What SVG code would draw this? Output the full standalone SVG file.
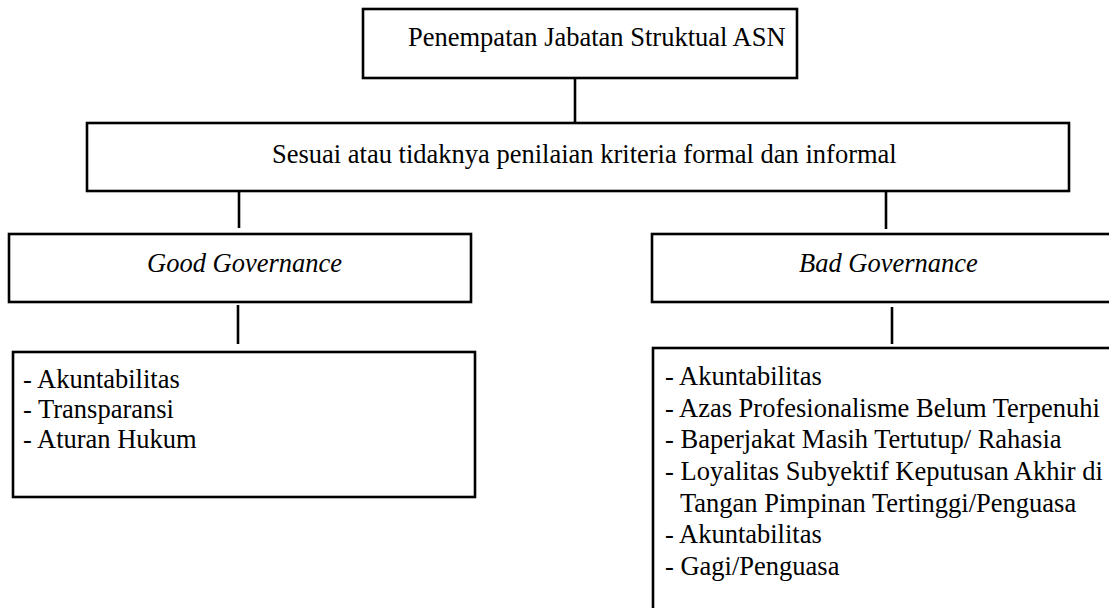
<svg xmlns="http://www.w3.org/2000/svg" width="1109" height="608" viewBox="0 0 1109 608">
<style>
.box{fill:#fff;stroke:#000;stroke-width:2.6}
.ln{stroke:#000;stroke-width:2.6;fill:none}
text{font-family:"Liberation Serif","Times New Roman",serif;font-size:26.5px;fill:#000}
.it{font-style:italic}
</style>
<rect width="1109" height="608" fill="#fff"/>
<g id="connectors">
<line class="ln" x1="575" y1="78" x2="575" y2="123"/>
<line class="ln" x1="239" y1="191" x2="239" y2="228"/>
<line class="ln" x1="886" y1="191" x2="886" y2="229"/>
<line class="ln" x1="238" y1="305" x2="238" y2="344"/>
<line class="ln" x1="892" y1="307" x2="892" y2="344"/>
</g>
<g id="node-top">
<rect class="box" x="363" y="9" width="434" height="69"/>
<text x="408" y="46">Penempatan Jabatan Struktual ASN</text>
</g>
<g id="node-criteria">
<rect class="box" x="87" y="123" width="982" height="68"/>
<text x="272" y="163">Sesuai atau tidaknya penilaian kriteria formal dan informal</text>
</g>
<g id="node-good">
<rect class="box" x="9" y="234" width="462" height="68"/>
<text class="it" x="147" y="272">Good Governance</text>
</g>
<g id="node-bad">
<rect class="box" x="652" y="234" width="462" height="68"/>
<text class="it" x="799" y="272">Bad Governance</text>
</g>
<g id="node-good-list">
<rect class="box" x="13" y="352" width="462" height="145"/>
<text x="23" y="388">- Akuntabilitas</text>
<text x="23" y="418">- Transparansi</text>
<text x="23" y="448">- Aturan Hukum</text>
</g>
<g id="node-bad-list">
<rect class="box" x="653" y="348" width="462" height="270"/>
<text x="665" y="385">- Akuntabilitas</text>
<text x="665" y="417">- Azas Profesionalisme Belum Terpenuhi</text>
<text x="665" y="448">- Baperjakat Masih Tertutup/ Rahasia</text>
<text x="665" y="480">- Loyalitas Subyektif Keputusan Akhir di</text>
<text x="680" y="512">Tangan Pimpinan Tertinggi/Penguasa</text>
<text x="665" y="543">- Akuntabilitas</text>
<text x="665" y="575">- Gagi/Penguasa</text>
</g>
</svg>
